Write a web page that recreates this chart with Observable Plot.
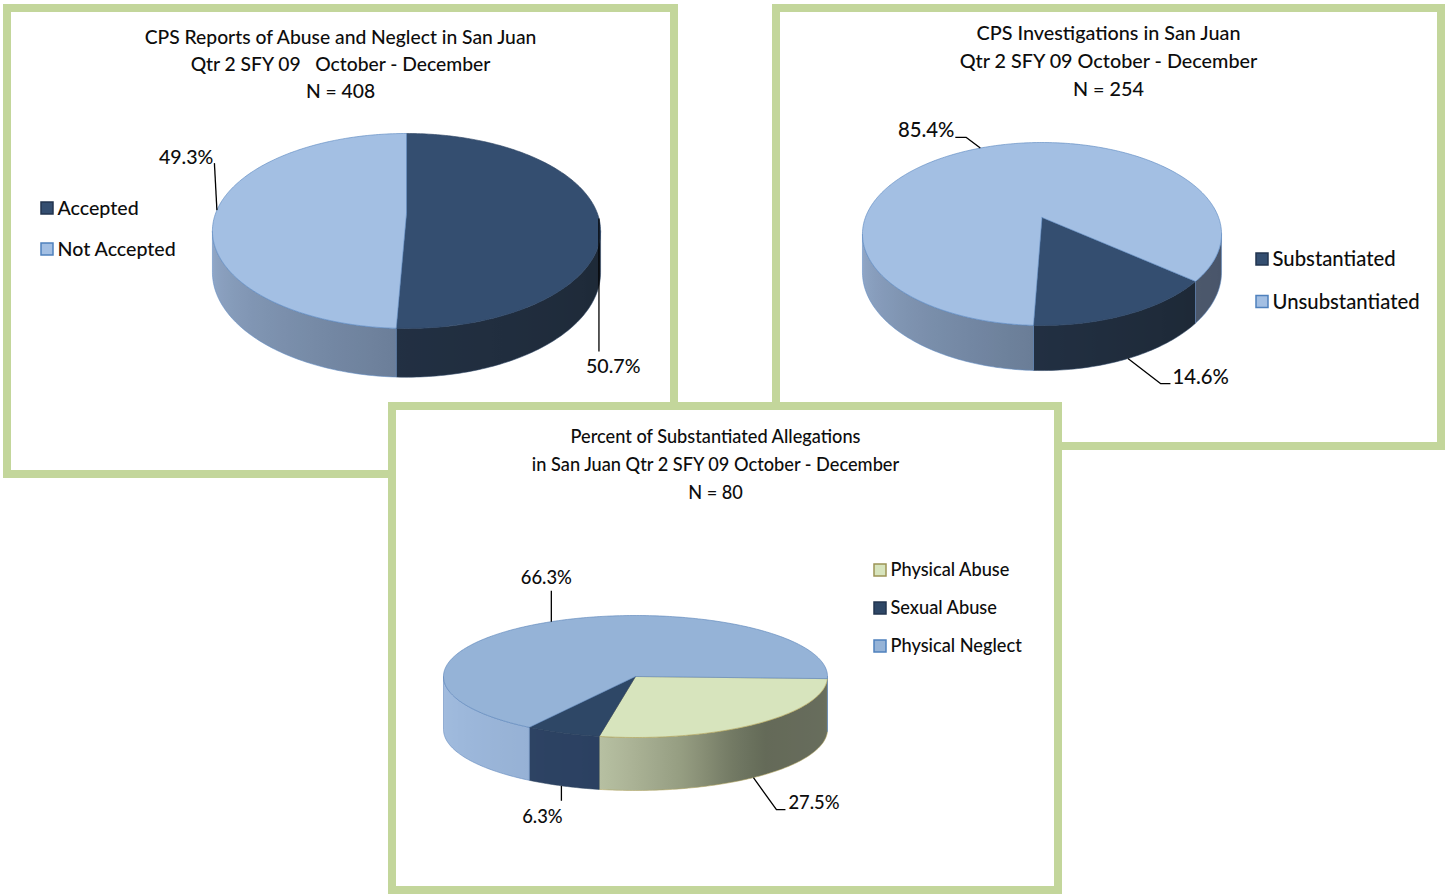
<!DOCTYPE html>
<html><head><meta charset="utf-8">
<script src="https://cdn.jsdelivr.net/npm/d3@7"></script>
<script src="https://cdn.jsdelivr.net/npm/@observablehq/plot@0.6"></script>
<style>
html,body{margin:0;padding:0;background:#fff;}
#chart{width:1446px;height:894px;overflow:hidden;}
</style></head><body><div id="chart"></div>
<script>
// ---------------- DATA ----------------
const reportsCategories = ["Accepted", "Not Accepted"];
const reportsValues = [50.7, 49.3];
const reportsN = 408;
const reportsTitle = ["CPS Reports of Abuse and Neglect in San Juan", "Qtr 2 SFY 09\u00a0\u00a0 October - December", "N = " + reportsN];

const investigationsCategories = ["Substantiated", "Unsubstantiated"];
const investigationsValues = [14.6, 85.4];
const investigationsN = 254;
const investigationsTitle = ["CPS Investigations in San Juan", "Qtr 2 SFY 09 October - December", "N = " + investigationsN];

const allegationsCategories = ["Physical Abuse", "Sexual Abuse", "Physical Neglect"];
const allegationsValues = [27.5, 6.3, 66.3];
const allegationsN = 80;
const allegationsTitle = ["Percent of Substantiated Allegations", "in San Juan Qtr 2 SFY 09 October - December", "N = " + allegationsN];

// ---------------- LAYOUT & STYLE ----------------
const W = 1446, H = 894;
const FONT = "Lato, 'Open Sans', sans-serif";
const WEIGHT = 500;
const INK = "#0d0d0d";
const GREEN = "#c3d69b";
const BORDER = 8;
const panelBoxes = [
  {x1: 3, y1: 4, x2: 678, y2: 478},
  {x1: 772, y1: 4, x2: 1445, y2: 450},
  {x1: 388, y1: 402, x2: 1062, y2: 894}
];

const pies = [
  {
    id: "rep", categories: reportsCategories, values: reportsValues, title: reportsTitle,
    cx: 406, cy: 212.9, rx: 190.9, ry: 94.3, depth: 40, k: 0.18, start: 0,
    top: ["#344e70", "#a3bfe3"], edge: ["#2c4463", "#5f8bc2"],
    swatchStroke: ["#22354f", "#4f81bd"],
    side: [
      [[95, "#1d2835"], [185, "#223043"]],
      [[180, "#6a7d97"], [265, "#95accd"]]
    ],
    titleX: 340, titleY: 37, titleDy: 27, titleSize: 19.3,
    legendX: 41, legendY: 208, legendDy: 41, legendSize: 19.6, swatch: 12,
    leaders: [
      {slice: 1, angle: 272, rim: 0, path: [[-2.5, -47]], text: [-1, -5], anchor: "end"},
      {slice: 0, angle: 93, rim: 0, path: [[0, 133]], text: [-13, 15], anchor: "start"}
    ],
    labelSize: 19.6
  },
  {
    id: "inv", categories: investigationsCategories, values: investigationsValues, title: investigationsTitle,
    cx: 1041.5, cy: 217, rx: 176.6, ry: 88.5, depth: 37, k: 0.18, start: 129.7,
    top: ["#344e70", "#a3bfe3"], edge: ["#2c4463", "#5f8bc2"],
    swatchStroke: ["#22354f", "#4f81bd"],
    side: [
      [[125, "#1d2835"], [185, "#223043"]],
      [[95, "#47536a"], [130, "#4c586b"], [182, "#6a7d97"], [265, "#95accd"]]
    ],
    titleX: 1108, titleY: 33, titleDy: 28, titleSize: 19.8,
    legendX: 1256, legendY: 259, legendDy: 42.5, legendSize: 20.3, swatch: 12,
    leaders: [
      {slice: 1, angle: 336, rim: 0, path: [[-14, -10.6], [-25, -10.6]], text: [-1, -7], anchor: "end"},
      {slice: 0, angle: 156, rim: 1, path: [[32.5, 25], [42.5, 25]], text: [2, -6], anchor: "start"}
    ],
    labelSize: 20.3
  },
  {
    id: "all", categories: allegationsCategories, values: allegationsValues, title: allegationsTitle,
    cx: 635, cy: 676, rx: 192, ry: 61, depth: 53, k: 0, start: 92,
    top: ["#d7e4bd", "#2e4766", "#95b3d7"], edge: ["#b0a45e", "#2a405e", "#5f87bc"],
    swatchStroke: ["#9c9456", "#22354f", "#4f81bd"],
    side: [
      [[90, "#6a705d"], [112, "#676c5c"], [138, "#646a58"], [150, "#737a64"], [166.5, "#969e82"], [186.6, "#b2bb9d"], [192, "#b8c1a3"]],
      [[190, "#2b4061"], [215, "#2d4363"]],
      [[88, "#8aa6ca"], [95, "#8aa6ca"], [213, "#96b1d5"], [245, "#9db8db"], [272, "#a3bddf"]]
    ],
    titleX: 715, titleY: 437, titleDy: 28, titleSize: 18.2,
    legendX: 874, legendY: 570, legendDy: 38, legendSize: 18.2, swatch: 12,
    leaders: [
      {slice: 2, angle: 334, rim: 0, path: [[0, -31]], text: [-5, -13], anchor: "middle"},
      {slice: 1, angle: 202.7, rim: 1, path: [[0, 15]], text: [-19, 16], anchor: "middle"},
      {slice: 0, angle: 142.1, rim: 1, path: [[23, 32], [32, 32]], text: [3, -7], anchor: "start"}
    ],
    labelSize: 18.4
  }
];

// ---------------- GEOMETRY ----------------
const rad = d => d * Math.PI / 180;
function proj(p, deg, h) {
  const u = Math.sin(rad(deg)), v = -Math.cos(rad(deg));
  const s = 1 / (1 - p.k * v);
  return {x: p.cx + p.rx * u * s, y: p.cy + (p.ry * v + h) * s};
}
function arc(p, a0, a1, h) {
  const n = Math.max(2, Math.ceil(Math.abs(a1 - a0)));
  const pts = [];
  for (let i = 0; i <= n; i++) pts.push(proj(p, a0 + (a1 - a0) * i / n, h));
  return pts;
}
function slicesOf(p) {
  const total = d3.sum(p.values);
  let acc = 0;
  return p.values.map((v, i) => {
    const a0 = p.start + 360 * acc / total;
    acc += v;
    const a1 = p.start + 360 * acc / total;
    return {i, cat: p.categories[i], value: v, a0, a1};
  });
}
const norm = a => ((a % 360) + 360) % 360;
function colorAt(stops, a) {
  if (a <= stops[0][0]) return stops[0][1];
  for (let i = 1; i < stops.length; i++) {
    if (a <= stops[i][0]) {
      const t = (a - stops[i - 1][0]) / (stops[i][0] - stops[i - 1][0]);
      return d3.interpolateRgb(stops[i - 1][1], stops[i][1])(t);
    }
  }
  return stops[stops.length - 1][1];
}

const gradients = [];
const sideMarks = [];
const topMarks = [];
const annotationMarks = [];

for (const p of pies) {
  const sl = slicesOf(p);
  const asd = Math.asin(p.k) * 180 / Math.PI;
  const v0 = 90 + asd, v1 = 270 - asd;
  // side faces
  for (const s of sl) {
    for (const off of [-360, 0, 360]) {
      const lo = Math.max(s.a0, v0 + off), hi = Math.min(s.a1, v1 + off);
      if (hi - lo <= 0.05) continue;
      const topRim = arc(p, lo, hi, 0);
      const botRim = arc(p, hi, lo, p.depth);
      const poly = [...topRim, ...botRim, topRim[0]];
      const id = `g-${p.id}-${s.i}-${off + 360}`;
      const samples = d3.range(0, 25).map(j => {
        const a = lo + (hi - lo) * j / 24;
        return {x: proj(p, a, 0).x, c: colorAt(p.side[s.i], norm(a))};
      });
      const xs = samples.map(d => d.x);
      const xmin = d3.min(xs), xmax = d3.max(xs);
      gradients.push({id, x1: xmin, x2: xmax,
        stops: samples.map(d => ({o: xmax > xmin ? (d.x - xmin) / (xmax - xmin) : 0, c: d.c})).sort((a, b) => a.o - b.o)});
      sideMarks.push(Plot.line(poly, {x: "x", y: "y", fill: `url(#${id})`, stroke: p.edge[s.i], strokeWidth: 0.7, strokeOpacity: 0.8, curve: "linear"}));
    }
  }
  // top faces
  for (const s of sl) {
    const apex = {x: p.cx, y: p.cy};
    const poly = [apex, ...arc(p, s.a0, s.a1, 0), apex];
    topMarks.push(Plot.line(poly, {x: "x", y: "y", fill: p.top[s.i], stroke: p.edge[s.i], strokeWidth: 0.8, strokeOpacity: 0.8, curve: "linear"}));
  }
  // titles
  annotationMarks.push(Plot.text(p.title, {
    x: () => p.titleX, y: (d, i) => p.titleY + i * p.titleDy, text: d => d,
    fontSize: p.titleSize, fontFamily: FONT, fontWeight: WEIGHT, fill: INK, textAnchor: "middle", lineAnchor: "middle"
  }));
  // legend
  const leg = p.categories.map((c, i) => ({c, i}));
  annotationMarks.push(Plot.rect(leg, {
    x1: () => p.legendX, x2: () => p.legendX + p.swatch,
    y1: d => p.legendY + d.i * p.legendDy - p.swatch / 2, y2: d => p.legendY + d.i * p.legendDy + p.swatch / 2,
    fill: d => p.top[d.i], stroke: d => p.swatchStroke[d.i], strokeWidth: 1.5
  }));
  annotationMarks.push(Plot.text(leg, {
    x: () => p.legendX + p.swatch + 4, y: d => p.legendY + d.i * p.legendDy, text: d => d.c,
    fontSize: p.legendSize, fontFamily: FONT, fontWeight: WEIGHT, fill: INK, textAnchor: "start", lineAnchor: "middle"
  }));
  // leaders + percentage labels
  for (const L of p.leaders) {
    const a = proj(p, L.angle, L.rim ? p.depth : 0);
    const pts = [a, ...L.path.map(([dx, dy]) => ({x: a.x + dx, y: a.y + dy}))];
    annotationMarks.push(Plot.line(pts, {x: "x", y: "y", stroke: "#000", strokeWidth: 1.3, curve: "linear", strokeLinecap: "butt"}));
    const end = pts[pts.length - 1];
    const val = p.values[L.slice];
    annotationMarks.push(Plot.text([val], {
      x: () => end.x + L.text[0], y: () => end.y + L.text[1], text: d => d.toFixed(1) + "%",
      fontSize: p.labelSize, fontFamily: FONT, fontWeight: WEIGHT, fill: INK, textAnchor: L.anchor, lineAnchor: "middle"
    }));
  }
}

// gradient definitions (render-function mark)
const defsMark = (index, scales) => {
  const defs = d3.create("svg:defs");
  for (const g of gradients) {
    const lg = defs.append("linearGradient").attr("id", g.id)
      .attr("gradientUnits", "userSpaceOnUse")
      .attr("x1", scales.x(g.x1)).attr("x2", scales.x(g.x2)).attr("y1", 0).attr("y2", 0);
    for (const st of g.stops) lg.append("stop").attr("offset", st.o).attr("stop-color", st.c);
  }
  return defs.node();
};

const chart = Plot.plot({
  width: W, height: H,
  marginTop: 0, marginRight: 0, marginBottom: 0, marginLeft: 0,
  x: {type: "linear", domain: [0, W], range: [0, W], axis: null},
  y: {type: "linear", domain: [0, H], range: [0, H], axis: null},
  color: {type: "identity"},
  style: {background: "#fff", fontFamily: FONT},
  marks: [
    defsMark,
    Plot.rect(panelBoxes, {
      x1: d => d.x1 + BORDER / 2, x2: d => d.x2 - BORDER / 2,
      y1: d => d.y1 + BORDER / 2, y2: d => d.y2 - BORDER / 2,
      fill: "#fff", stroke: GREEN, strokeWidth: BORDER
    }),
    ...sideMarks,
    ...topMarks,
    ...annotationMarks
  ]
});
document.getElementById("chart").appendChild(chart);
</script>
</body></html>
